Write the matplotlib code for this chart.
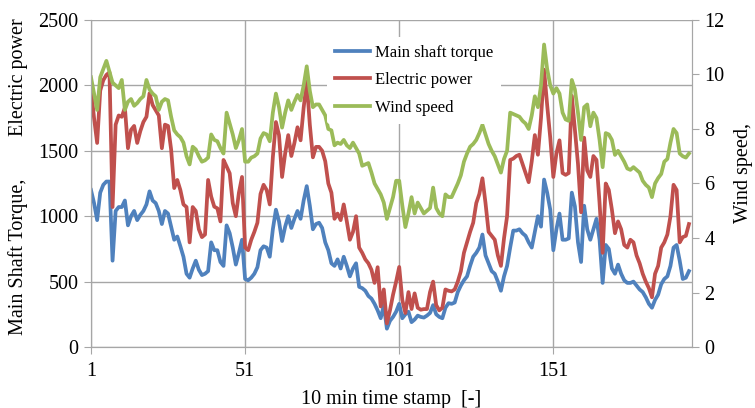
import numpy as np
import matplotlib
matplotlib.use('Agg')
import matplotlib.pyplot as plt

plt.rcParams['font.family'] = ['Liberation Serif', 'DejaVu Serif']

# values, one per 10 min stamp (1..195)
torque = [
    1200, 1100, 970, 1180, 1240, 1265, 1265, 660, 1040, 1070, 1070, 1120, 930, 1000, 1040, 970, 1010, 1040, 1090, 1190, 1120, 1100, 1040, 940, 1040,
    1020, 920, 820, 845, 770, 690, 560, 530, 600, 660, 590, 550, 560, 580, 800, 740, 740, 650, 620, 930, 870, 760, 630, 720, 820,
    520, 510, 530, 560, 610, 740, 770, 760, 690, 900, 1050, 960, 810, 920, 1000, 910, 980, 1040, 980, 1120, 1230, 1080, 900, 940, 950, 910,
    800, 740, 640, 620, 670, 600, 690, 620, 540, 600, 640, 460, 450, 430, 390, 370, 330, 280, 220, 320, 140, 200, 230, 270,
    330, 220, 250, 270, 190, 210, 240, 230, 225, 240, 260, 320, 250, 230, 220, 300, 335, 330, 340, 420, 470, 510, 540, 620, 690,
    720, 760, 860, 700, 640, 580, 560, 500, 430, 540, 620, 760, 890, 890, 900, 870, 850, 800, 760, 880, 1000, 920, 1280, 1180, 1050,
    740, 900, 1020, 820,
    820, 830, 1180, 1075, 800, 650, 1080, 900, 820, 900, 980, 820, 490, 780, 750, 600, 560, 630, 560, 510, 490, 490, 500, 470, 440,
    420, 380, 330, 300, 360, 400, 480, 520, 540, 620, 760, 780, 660, 520, 530, 580,
]
power = [
    1980, 1750, 1560, 1960, 2040, 2080, 2100, 1070, 1700, 1770, 1760, 1830, 1520, 1660, 1690, 1560, 1650, 1720, 1760, 1940, 1850, 1810, 1770, 1520, 1700,
    1690, 1510, 1215, 1277, 1200, 1090, 1070, 800, 1070, 1040, 900, 840, 860, 1277, 1150, 1073, 1060, 960, 1430, 1380, 1328, 1100, 1000, 1180, 1300,
    760, 740, 820, 880, 950, 1170, 1240, 1200, 1090, 1450, 1720, 1620, 1300, 1480, 1620, 1460, 1560, 1680, 1580, 1830, 2030, 1700, 1450, 1530, 1530, 1500,
    1420, 1250, 1180, 980, 1020, 970, 1090, 960, 820, 880, 1000, 760, 720, 670, 640, 590, 490, 610, 310, 440, 180, 280, 400, 500,
    612, 360, 260, 420, 290, 410, 300, 285, 290, 290, 420, 500, 320, 280, 300, 440, 430, 425, 440, 500, 580, 720, 800, 880, 950,
    1100, 1170, 1290, 1100, 880, 850, 820, 700, 620, 830, 1000, 1430, 1440, 1460, 1470, 1400, 1330, 1260, 1420, 1620, 1470, 1750, 2120, 1850, 1600,
    1300, 1480, 1580, 1330,
    1316, 1330, 1920, 1660, 1400, 1030, 1600, 1350, 1300, 1460, 1430, 1100, 720, 1250, 1200, 1050, 870, 960, 900, 780, 760, 820, 800, 700, 640,
    560, 500, 450, 380, 560, 620, 760, 800, 860, 1000, 1240, 1200, 800, 840, 850, 940,
]
wind = [
    9.9, 9.3, 8.7, 9.9, 10.2, 10.5, 10.1, 9.7, 9.6, 9.5, 9.8, 8.7, 9.0, 9.1, 8.85, 8.95, 9.1, 9.2, 9.8, 9.45, 9.3, 9.2, 8.7, 9.0, 9.1,
    9.05, 8.45, 7.95, 7.8, 7.7, 7.5, 7.0, 6.7, 7.35, 7.25, 7.0, 6.8, 6.85, 6.95, 7.8, 7.6, 7.55, 7.3, 7.1, 8.6, 8.2, 7.8, 7.3, 7.6, 8.0,
    6.8, 6.8, 6.95, 7.0, 7.1, 7.65, 7.85, 7.8, 7.55, 8.6, 9.3, 8.8, 8.05, 8.6, 9.05, 8.7, 9.0, 9.25, 9.05, 9.6, 10.3, 9.4, 8.8, 8.9, 8.9, 8.7,
    8.5, 8.0, 7.95, 7.4, 7.5, 7.45, 7.6, 7.4, 7.3, 7.5, 7.3, 7.1, 6.65, 6.7, 6.75, 6.4, 6.0, 5.8, 5.6, 5.3, 4.7, 5.1, 5.5, 6.1,
    6.1, 5.2, 4.4, 4.9, 5.5, 4.9, 5.3, 5.1, 4.9, 5.0, 5.1, 5.85, 5.1, 4.9, 4.8, 5.6, 5.5, 5.5, 5.75, 6.0, 6.3, 6.8, 7.1, 7.35, 7.45,
    7.6, 7.85, 8.15, 7.8, 7.45, 7.2, 7.0, 6.7, 6.4, 6.9, 7.2, 8.6, 8.55, 8.5, 8.45, 8.3, 8.2, 8.0, 8.5, 9.2, 8.8, 9.6, 11.1, 10.2, 9.6,
    9.3, 9.5, 9.3, 8.6,
    8.35, 8.3, 9.8, 9.45, 8.6, 7.6, 8.8, 8.9, 8.1, 8.6, 8.4, 7.6, 6.6, 7.85, 7.8, 7.6, 7.05, 7.2, 7.0, 6.8, 6.55, 6.5, 6.6, 6.5, 6.4,
    6.1, 5.95, 5.85, 5.5, 6.0, 6.2, 6.35, 6.8, 6.9, 7.5, 8.0, 7.85, 7.1, 7.0, 6.95, 7.1,
]
x_ticks = [1, 51, 101, 151]

x = np.arange(1, len(torque) + 1)
grey = '#A6A6A6'

fig = plt.figure(figsize=(7.55, 4.08), dpi=100)
ax = fig.add_axes([0.1205, 0.1495, 0.7961, 0.8015])
ax2 = ax.twinx()

l1, = ax.plot(x, torque, color='#4F81BD', lw=2.7, label='Main shaft torque')
l2, = ax.plot(x, power, color='#C0504D', lw=2.7, label='Electric power')
l3, = ax2.plot(x, wind, color='#9BBB59', lw=2.7, label='Wind speed')

ax.set_xlim(1, 196)
ax.set_ylim(0, 2500)
ax2.set_ylim(0, 12)
ax.set_xticks(x_ticks)
ax.set_yticks(range(0, 2501, 500))
ax2.set_yticks(range(0, 13, 2))

ax.grid(True, color=grey, lw=1)
ax.set_axisbelow(True)
for a in (ax, ax2):
    for s in a.spines.values():
        s.set_color(grey)
    a.spines['top'].set_visible(False)
ax.tick_params(axis='both', direction='out', length=5, color=grey, labelsize=14.5, pad=4)
ax.tick_params(axis='x', pad=6)
ax2.tick_params(axis='y', direction='out', length=5, color=grey, labelsize=14.5, pad=4)

ax.set_xlabel('10 min time stamp  [-]', fontsize=14.5, labelpad=6)
fig.text(0.024, 0.37, 'Main Shaft Torque,', rotation=90, fontsize=14.5, ha='center', va='center')
fig.text(0.024, 0.81, 'Electric power', rotation=90, fontsize=14.5, ha='center', va='center')
fig.text(0.985, 0.575, 'Wind speed,', rotation=90, fontsize=14.5, ha='center', va='center')

leg = ax2.legend(handles=[l1, l2, l3], loc='upper left', bbox_to_anchor=(0.378, 0.975),
                 fontsize=12, frameon=True, facecolor='white', edgecolor='none', framealpha=1,
                 handlelength=2.1, handletextpad=0.3, labelspacing=0.68, borderpad=0.5)

fig.savefig('out.png', dpi=100)
